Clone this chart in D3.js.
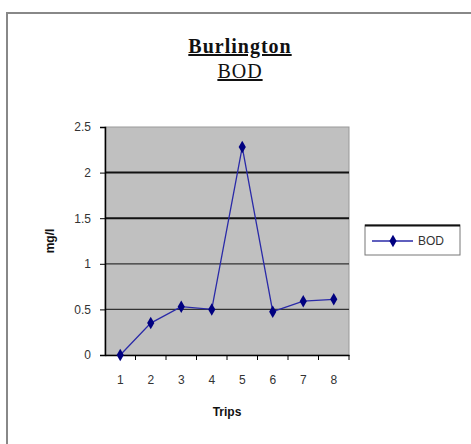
<!DOCTYPE html>
<html lang="en">
<head>
<meta charset="UTF-8">
<title>Burlington BOD</title>
<script src="https://d3js.org/d3.v7.min.js"></script>
<style>
html, body {
  margin: 0px;
  padding: 0px;
  overflow: hidden;
  background: #fff;
}
svg {
  display: block;
}
text {
  font-family: Arial, "Liberation Sans", sans-serif;
}
.tick text {
  font-size: 12px;
  fill: #333;
}
.title {
  font-family: "Liberation Serif", "Times New Roman", serif;
  font-size: 20px;
  fill: #111;
  text-decoration: underline;
}
.axis-label {
  font-size: 12px;
  font-weight: bold;
  fill: #111;
}
</style>
</head>
<body>
<svg width="471" height="444"></svg>
<script>
// data
const trips = ['1', '2', '3', '4', '5', '6', '7', '8'];
const bod = [0, 0.35, 0.53, 0.5, 2.28, 0.475, 0.59, 0.61];
const yTicks = [0, 0.5, 1, 1.5, 2, 2.5];
const seriesName = 'BOD';

const svg = d3.select('svg');

const margin = { top: 127, left: 105 };
const innerWidth = 244;
const innerHeight = 228;

// chart area border (only top and left are visible)
svg.append('path')
  .attr('d', 'M7,444 V13 H471')
  .attr('fill', 'none')
  .attr('stroke', '#888')
  .attr('stroke-width', 2);

// title, centered over whole chart area
svg.append('text')
  .attr('class', 'title')
  .attr('x', 240).attr('y', 53)
  .attr('text-anchor', 'middle')
  .attr('font-weight', 'bold')
  .attr('letter-spacing', 1)
  .text('Burlington');
svg.append('text')
  .attr('class', 'title')
  .attr('x', 240).attr('y', 78)
  .attr('text-anchor', 'middle')
  .attr('letter-spacing', 1)
  .text('BOD');

const g = svg.append('g')
  .attr('transform', `translate(${margin.left},${margin.top})`);

const xScale = d3.scaleBand()
  .domain(trips)
  .range([0, innerWidth]);

const yScale = d3.scaleLinear()
  .domain([0, 2.5])
  .range([innerHeight, 0]);

// plot area
g.append('rect')
  .attr('width', innerWidth)
  .attr('height', innerHeight)
  .attr('fill', '#c0c0c0')
  .attr('stroke', '#999')
  .attr('stroke-width', 1);

// gridlines
g.selectAll('.grid')
  .data(yTicks.filter(d => d > 0 && d < 2.5))
  .enter().append('line')
    .attr('class', 'grid')
    .attr('x1', 0).attr('x2', innerWidth)
    .attr('y1', d => yScale(d)).attr('y2', d => yScale(d))
    .attr('stroke', d => d >= 1.5 ? '#111' : '#333')
    .attr('stroke-width', d => d >= 1.5 ? 2 : 1.2);

// y axis
const yAxisG = g.append('g')
  .call(d3.axisLeft(yScale).tickValues(yTicks).tickSize(5).tickPadding(9)
    .tickFormat(d3.format('')));
yAxisG.select('.domain').attr('stroke', '#000').attr('stroke-width', 1.5);
yAxisG.selectAll('.tick line').attr('stroke', '#000');

// x axis: ticks between categories
const xAxisG = g.append('g')
  .attr('transform', `translate(0,${innerHeight})`)
  .call(d3.axisBottom(xScale).tickSize(0).tickPadding(20));
xAxisG.select('.domain').attr('stroke', '#000').attr('stroke-width', 1.5);
xAxisG.selectAll('.sep')
  .data(trips)
  .enter().append('line')
    .attr('class', 'sep')
    .attr('x1', d => xScale(d) + xScale.bandwidth())
    .attr('x2', d => xScale(d) + xScale.bandwidth())
    .attr('y1', 0).attr('y2', 5)
    .attr('stroke', '#000');

// axis titles
svg.append('text')
  .attr('class', 'axis-label')
  .attr('transform', 'translate(54,241) rotate(-90)')
  .attr('text-anchor', 'middle')
  .text('mg/l');
svg.append('text')
  .attr('class', 'axis-label')
  .attr('x', 227).attr('y', 416)
  .attr('text-anchor', 'middle')
  .text('Trips');

// series
const line = d3.line()
  .x((d, i) => xScale(trips[i]) + xScale.bandwidth() / 2)
  .y(d => yScale(d));

g.append('path')
  .datum(bod)
  .attr('fill', 'none')
  .attr('stroke', '#2a2aa8')
  .attr('stroke-width', 1.3)
  .attr('d', line);

const diamond = d3.symbol().type(d3.symbolDiamond).size(45);
g.selectAll('.pt')
  .data(bod)
  .enter().append('path')
    .attr('class', 'pt')
    .attr('d', diamond)
    .attr('transform', (d, i) =>
      `translate(${xScale(trips[i]) + xScale.bandwidth() / 2},${yScale(d)})`)
    .attr('fill', '#000080');

// legend
const lg = svg.append('g').attr('transform', 'translate(365,225)');
lg.append('rect')
  .attr('width', 95).attr('height', 30)
  .attr('fill', '#fff')
  .attr('stroke', '#777');
lg.append('line')
  .attr('x1', 0).attr('x2', 95).attr('y1', 0.5).attr('y2', 0.5)
  .attr('stroke', '#111').attr('stroke-width', 2);
lg.append('line')
  .attr('x1', 7).attr('x2', 48).attr('y1', 16).attr('y2', 16)
  .attr('stroke', '#2a2aa8').attr('stroke-width', 1.3);
lg.append('path')
  .attr('d', diamond)
  .attr('transform', 'translate(28,16)')
  .attr('fill', '#000080');
lg.append('text')
  .attr('x', 53).attr('y', 20)
  .attr('font-size', 12)
  .attr('fill', '#333')
  .text(seriesName);
</script>
</body>
</html>
